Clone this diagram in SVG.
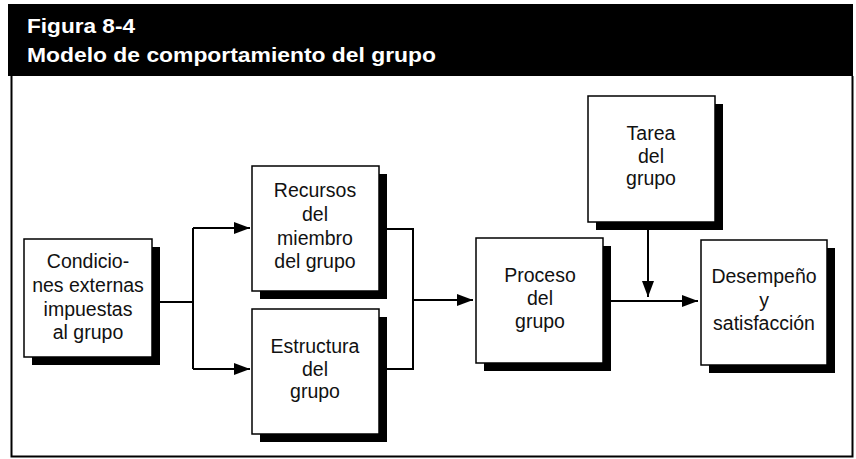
<svg xmlns="http://www.w3.org/2000/svg" width="856" height="459" viewBox="0 0 856 459">
<style>
.box{fill:#fff;stroke:#000;stroke-width:1.5}
.sh{fill:#000}
.t{font-family:"Liberation Sans",Arial,sans-serif;font-size:19.5px;fill:#111;text-anchor:middle}
.h{font-family:"Liberation Sans",Arial,sans-serif;font-size:20px;font-weight:bold;fill:#fff}
.c{fill:none;stroke:#000;stroke-width:2}
</style>
<defs>
<marker id="ar" markerUnits="userSpaceOnUse" markerWidth="16" markerHeight="12" refX="16" refY="6" orient="auto">
<path d="M0,0 L16,6 L0,12 Z" fill="#000"/>
</marker>
</defs>
<rect width="856" height="459" fill="#fff"/>
<g id="frame">
<rect x="8" y="4" width="845" height="72" fill="#000"/>
<path d="M11.5,76 V456.5 H852.5 V76" fill="none" stroke="#000" stroke-width="2"/>
<text class="h" x="27" y="33" textLength="108" lengthAdjust="spacingAndGlyphs">Figura 8-4</text>
<text class="h" x="27" y="62" textLength="409" lengthAdjust="spacingAndGlyphs">Modelo de comportamiento del grupo</text>
</g>
<g id="connectors">
<path class="c" d="M152,302 H193"/>
<path class="c" d="M193,228 V369"/>
<path class="c" d="M193,228 H250" marker-end="url(#ar)"/>
<path class="c" d="M193,369 H250" marker-end="url(#ar)"/>
<path class="c" d="M387,229 H413 V369 H387"/>
<path class="c" d="M413,300 H473" marker-end="url(#ar)"/>
<path class="c" d="M611,301 H698" marker-end="url(#ar)"/>
<path class="c" d="M648,230 V297" marker-end="url(#ar)"/>
</g>
<g id="n-condiciones">
<rect class="sh" x="32" y="247" width="128" height="118"/>
<rect class="box" x="24" y="239" width="128" height="118"/>
<text class="t" x="88" y="268">Condicio-</text>
<text class="t" x="88" y="292">nes externas</text>
<text class="t" x="88" y="316">impuestas</text>
<text class="t" x="88" y="339">al grupo</text>
</g>
<g id="n-recursos">
<rect class="sh" x="260" y="174" width="127" height="125"/>
<rect class="box" x="252" y="166" width="127" height="125"/>
<text class="t" x="315" y="197">Recursos</text>
<text class="t" x="315" y="221">del</text>
<text class="t" x="315" y="245">miembro</text>
<text class="t" x="315" y="268">del grupo</text>
</g>
<g id="n-estructura">
<rect class="sh" x="260" y="317" width="127" height="125"/>
<rect class="box" x="252" y="309" width="127" height="125"/>
<text class="t" x="315" y="353">Estructura</text>
<text class="t" x="315" y="376">del</text>
<text class="t" x="315" y="398">grupo</text>
</g>
<g id="n-proceso">
<rect class="sh" x="484" y="246" width="127" height="125"/>
<rect class="box" x="476" y="238" width="127" height="125"/>
<text class="t" x="540" y="282">Proceso</text>
<text class="t" x="540" y="305">del</text>
<text class="t" x="540" y="328">grupo</text>
</g>
<g id="n-tarea">
<rect class="sh" x="596" y="104" width="127" height="126"/>
<rect class="box" x="588" y="96" width="127" height="126"/>
<text class="t" x="651" y="140">Tarea</text>
<text class="t" x="651" y="163">del</text>
<text class="t" x="651" y="185">grupo</text>
</g>
<g id="n-desempeno">
<rect class="sh" x="709" y="248" width="126" height="125"/>
<rect class="box" x="701" y="240" width="126" height="125"/>
<text class="t" x="764" y="283">Desempeño</text>
<text class="t" x="764" y="307">y</text>
<text class="t" x="764" y="330">satisfacción</text>
</g>
</svg>
